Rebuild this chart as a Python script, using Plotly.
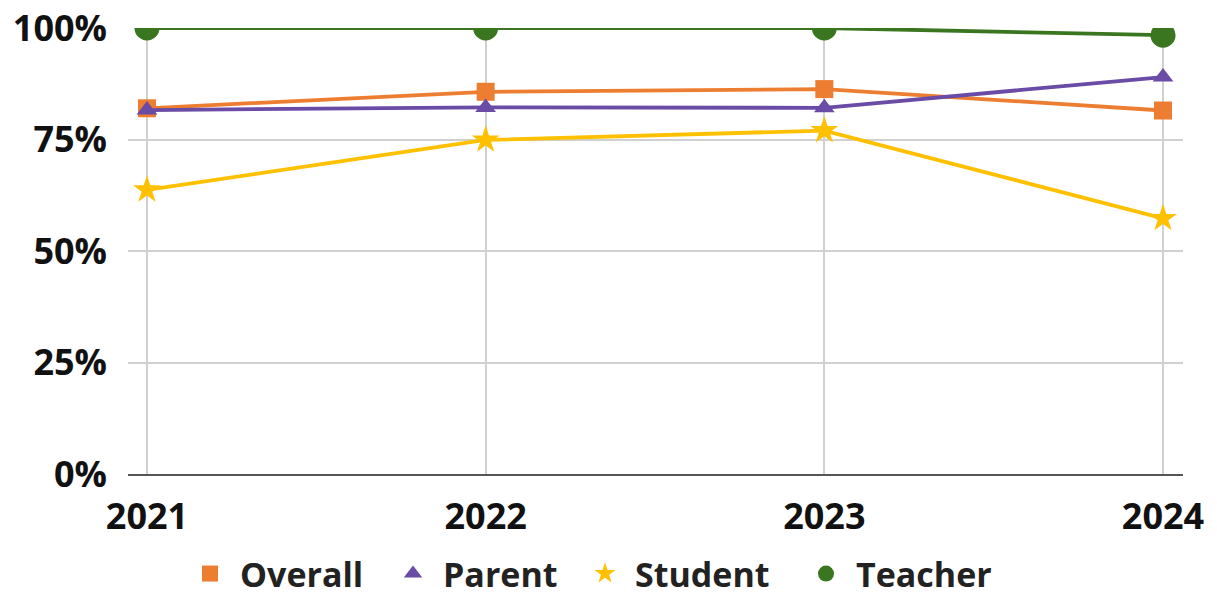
import plotly.graph_objects as go

years = [2021, 2022, 2023, 2024]
year_labels = ["2021", "2022", "2023", "2024"]
overall = [0.82, 0.857, 0.863, 0.815]
parent = [0.816, 0.822, 0.821, 0.89]
student = [0.637, 0.749, 0.770, 0.573]
teacher = [1.0, 1.0, 1.0, 0.984]

series = [
    ("Overall", overall, "#ED7D31", "square", 18),
    ("Parent", parent, "#6A4BA6", "triangle-up", 18),
    ("Student", student, "#FFC000", "star", 21),
    ("Teacher", teacher, "#3A7520", "circle", 25),
]
# one legend box per series so the entries can be spaced out
legend_names = ["legend", "legend2", "legend3", "legend4"]
legend_x = [180, 383, 575, 796]

font_family = "Open Sans"
fig = go.Figure()
for (name, vals, color, symbol, size), lg in zip(series, legend_names):
    fig.add_trace(go.Scatter(
        x=years, y=vals, name=name, mode="lines+markers",
        line=dict(color=color, width=3.8),
        marker=dict(symbol=symbol, size=size, color=color, line=dict(width=0)),
        showlegend=False,
    ))
    # legend entry shows the marker only
    fig.add_trace(go.Scatter(
        x=[None], y=[None], name=name, mode="markers", legend=lg,
        marker=dict(symbol=symbol, size=16, color=color, line=dict(width=0)),
        showlegend=True,
    ))

# plot area ends at 100%: markers sitting on that line are cut off
fig.add_shape(type="rect", xref="paper", yref="paper", x0=0, x1=1.02, y0=1.0, y1=1.2,
              fillcolor="white", line=dict(width=0), layer="above")

legend_style = dict(
    orientation="h", xanchor="left", xref="container",
    y=0.037, yanchor="middle", yref="container",
    font=dict(size=34, color="#222222", weight="bold"),
    itemwidth=50, tracegroupgap=0, bgcolor="rgba(0,0,0,0)",
)
fig.update_layout(
    width=1217, height=596,
    margin=dict(l=128, r=34, t=28, b=122, autoexpand=False),
    paper_bgcolor="white", plot_bgcolor="white",
    font=dict(family=font_family, size=36, color="#111111", weight="bold"),
    showlegend=True,
)
for lg, px in zip(legend_names, legend_x):
    fig.update_layout({lg: dict(legend_style, x=px / 1217)})

fig.update_xaxes(
    range=[2020.944, 2024.059], tickmode="array", tickvals=years, ticktext=year_labels,
    showgrid=True, gridcolor="#D0D0D0", gridwidth=2,
    showline=True, linecolor="#555555", linewidth=2,
    ticks="", ticklabelstandoff=10, zeroline=False, automargin=False,
)
fig.update_yaxes(
    range=[0, 1], tickvals=[0, 0.25, 0.5, 0.75, 1.0], tickformat=".0%",
    showgrid=True, gridcolor="#D0D0D0", gridwidth=2,
    showline=False, zeroline=False, ticks="", ticklabelstandoff=20, automargin=False,
)
fig.write_html("out.html")
